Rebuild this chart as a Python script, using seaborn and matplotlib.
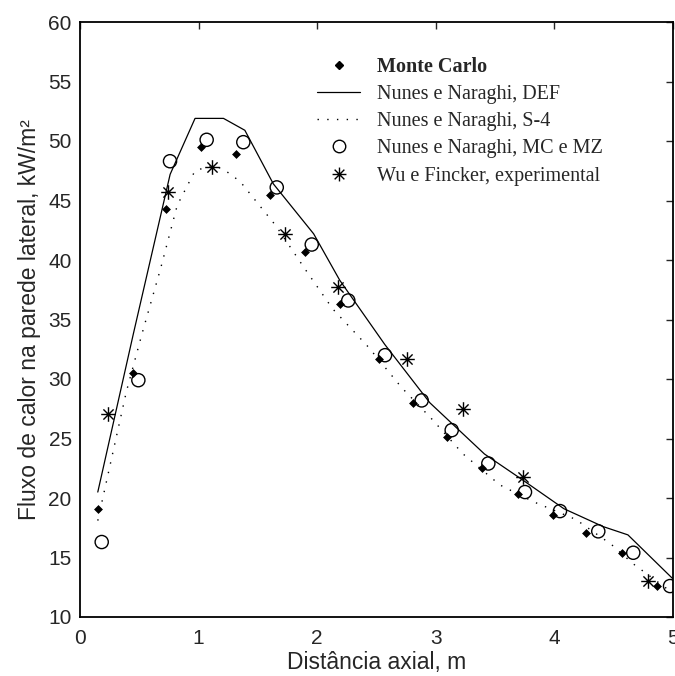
import seaborn as sns
import matplotlib
matplotlib.use("Agg")
import matplotlib.pyplot as plt
from matplotlib.lines import Line2D
from matplotlib.path import Path

# Monte Carlo (pontos)
mc_x = [0.149, 0.449, 0.725, 1.018, 1.315, 1.602, 1.897, 2.192, 2.524, 2.810, 3.097, 3.387, 3.696, 3.986, 4.266, 4.567, 4.863]
mc_y = [19.05, 30.5, 44.3, 49.5, 48.9, 45.5, 40.7, 36.3, 31.7, 28.0, 25.1, 22.5, 20.3, 18.6, 17.1, 15.4, 12.6]

# Nunes e Naraghi, DEF (linha cheia)
def_x = [0.15, 0.45, 0.76, 0.97, 1.21, 1.39, 1.63, 1.97, 2.19, 2.57, 2.95, 3.41, 3.72, 4.08, 4.41, 4.62, 5.0]
def_y = [20.5, 33.8, 47.2, 51.9, 51.9, 50.9, 46.4, 42.2, 38.3, 32.9, 28.0, 23.7, 21.6, 19.1, 17.6, 16.9, 13.2]

# Nunes e Naraghi, S-4 (pontilhada)
s4_x = [0.15, 0.39, 0.52, 0.68, 0.82, 0.97, 1.10, 1.20, 1.35, 1.52, 1.65, 1.90, 2.13, 2.43, 2.71, 2.97, 3.23, 3.54, 3.82, 4.18, 4.48, 4.66, 5.0]
s4_y = [18.1, 28.9, 33.7, 39.3, 44.6, 47.5, 47.9, 47.7, 46.6, 44.5, 42.9, 39.2, 35.9, 32.7, 29.3, 26.6, 23.7, 21.1, 19.7, 18.2, 16.1, 14.5, 12.0]

# Nunes e Naraghi, MC e MZ (circulos)
mz_x = [0.183, 0.492, 0.759, 1.068, 1.377, 1.659, 1.954, 2.262, 2.572, 2.881, 3.134, 3.443, 3.752, 4.047, 4.370, 4.665, 4.975]
mz_y = [16.3, 29.9, 48.3, 50.1, 49.9, 46.1, 41.3, 36.6, 32.0, 28.2, 25.7, 22.9, 20.5, 18.9, 17.2, 15.4, 12.6]

# Wu e Fincker, experimental
wu_x = [0.239, 0.745, 1.116, 1.729, 2.178, 2.755, 3.232, 3.738, 4.792]
wu_y = [27.1, 45.7, 47.8, 42.2, 37.7, 31.7, 27.5, 21.8, 13.0]

labels = ["Monte Carlo", "Nunes e Naraghi, DEF", "Nunes e Naraghi, S-4",
          "Nunes e Naraghi, MC e MZ", "Wu e Fincker, experimental"]

sns.set_style("white")
plt.rcParams["font.family"] = ["Liberation Sans", "DejaVu Sans"]

# asterisco estilo matlab
ast = Path([(-1, 0), (1, 0), (0, -1), (0, 1), (-0.7, -0.7), (0.7, 0.7), (-0.7, 0.7), (0.7, -0.7)],
           [Path.MOVETO, Path.LINETO] * 4)

fig = plt.figure(figsize=(6.75, 6.76), dpi=100)
ax = fig.add_axes([80 / 675, 59 / 676, 593 / 675, 595 / 676])

sns.lineplot(x=def_x, y=def_y, sort=False, estimator=None, color="black", lw=0.9, ax=ax)
sns.lineplot(x=s4_x, y=s4_y, sort=False, estimator=None, color="black", lw=1.0,
             linestyle=(0, (1, 6)), ax=ax)
sns.scatterplot(x=mz_x, y=mz_y, marker="o", s=90, facecolor="none", edgecolor="black",
                linewidth=1.0, ax=ax, zorder=3)
sns.scatterplot(x=mc_x, y=mc_y, marker="D", s=16, color="black", edgecolor="black",
                linewidth=0.5, ax=ax, zorder=4)
sns.scatterplot(x=wu_x, y=wu_y, marker=ast, s=110, color="black", edgecolor="black",
                linewidth=1.0, ax=ax, zorder=4)

ax.set_xlim(0, 5)
ax.set_ylim(10, 60)
ax.set_xticks([0, 1, 2, 3, 4, 5])
ax.set_yticks(range(10, 61, 5))
ax.tick_params(direction="in", length=5, width=1, top=True, right=True, labelsize=15)
ax.tick_params(axis="x", pad=9)
ax.tick_params(axis="y", pad=6)
for sp in ax.spines.values():
    sp.set_linewidth(1.3)
    sp.set_color("black")

ax.set_xlabel("Distância axial, m", fontsize=16.5, labelpad=2)
ax.set_ylabel("Fluxo de calor na parede lateral, kW/m²", fontsize=16.5, labelpad=5)

handles = [
    Line2D([], [], marker="D", color="black", linestyle="none", markersize=3.8),
    Line2D([], [], color="black", lw=0.9),
    Line2D([], [], color="black", lw=1.0, linestyle=(0, (1, 6))),
    Line2D([], [], marker="o", mfc="none", mec="black", linestyle="none", markersize=9),
    Line2D([], [], marker=ast, color="black", linestyle="none", markersize=10),
]
leg = ax.legend(handles, labels, loc="upper left", bbox_to_anchor=(317 / 675, 1 - 57 / 676),
                bbox_transform=fig.transFigure, frameon=False, borderpad=0, borderaxespad=0,
                handlelength=2.15, handletextpad=0.85, labelspacing=0.4,
                prop={"family": "Liberation Serif", "size": 14.5})
leg.get_texts()[0].set_fontweight("bold")

fig.savefig("out.png", dpi=100)
